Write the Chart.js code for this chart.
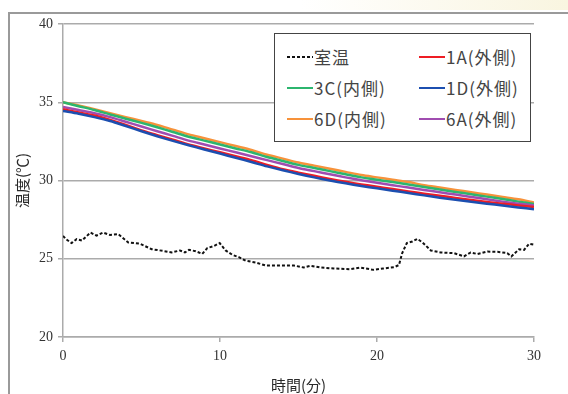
<!DOCTYPE html>
<html lang="ja">
<head>
<meta charset="utf-8">
<title>温度の推移</title>
<script src="https://cdn.jsdelivr.net/npm/chart.js@4/dist/chart.umd.min.js"></script>
<style>
  html, body { margin: 0; padding: 0; background: #fff; }
  #wrap { position: relative; width: 568px; height: 394px; overflow: hidden; }
  #topTint { position: absolute; left: 300px; top: 0; width: 268px; height: 10px;
    background: linear-gradient(to right, rgba(250,246,226,0), #f9f5e0); }
  #frame { position: absolute; left: 8px; top: 12px; width: 600px; height: 400px;
    border-left: 2px solid #9a9a9a; border-top: 2px solid #9a9a9a; box-sizing: border-box; }
  #chart { position: absolute; left: 0; top: 0; }
  #legend { position: absolute; left: 274px; top: 33px; width: 257px; height: 109px;
    border: 1.5px solid #444; box-sizing: border-box; background: #fff;
    font-family: "Noto Sans CJK JP", "Noto Sans", sans-serif; font-size: 17px; color: #444;
    letter-spacing: 1px; }
  .item { position: absolute; height: 31px; display: flex; align-items: center; white-space: nowrap; }
  .item svg { margin-right: 1px; }
</style>
</head>
<body>
<div id="wrap">
  <div id="topTint"></div>
  <div id="frame"></div>
  <canvas id="chart" width="568" height="394"></canvas>
  <div id="legend"></div>
</div>
<script>
/*
  Temperature decay chart: room temperature + 5 measuring points.
*/

const $ = (id) => document.getElementById(id);

// minutes 0..30 for the measuring points
const minutes = [0,1,2,3,4,5,6,7,8,9,10,11,12,13,14,15,16,17,18,19,20,21,22,23,24,25,26,27,28,29,30];

const temp1A = [34.55,34.35,34.15,33.87,33.55,33.2,32.9,32.6,32.3,32.05,31.8,31.55,31.3,31.0,30.72,30.5,30.3,30.1,29.92,29.75,29.6,29.45,29.3,29.16,29.02,28.89,28.76,28.63,28.51,28.41,28.3];
const temp3C = [35.0,34.75,34.5,34.22,33.95,33.68,33.4,33.1,32.8,32.55,32.3,32.05,31.8,31.5,31.25,31.0,30.8,30.6,30.4,30.2,30.05,29.9,29.75,29.58,29.42,29.27,29.12,28.97,28.82,28.65,28.5];
const temp1D = [34.45,34.27,34.05,33.8,33.48,33.15,32.83,32.53,32.25,31.98,31.72,31.45,31.18,30.9,30.65,30.42,30.2,30.0,29.82,29.65,29.5,29.35,29.2,29.05,28.9,28.77,28.64,28.52,28.4,28.28,28.17];
const temp6D = [35.0,34.8,34.55,34.3,34.05,33.8,33.55,33.25,32.95,32.7,32.45,32.2,31.95,31.65,31.4,31.15,30.95,30.75,30.55,30.35,30.2,30.05,29.9,29.7,29.55,29.4,29.25,29.1,28.95,28.8,28.6];
const temp6A = [34.7,34.5,34.3,34.05,33.75,33.45,33.15,32.85,32.55,32.3,32.05,31.8,31.55,31.3,31.05,30.8,30.6,30.4,30.2,30.02,29.85,29.7,29.55,29.4,29.25,29.1,28.95,28.8,28.65,28.52,28.4];

// room temperature, read at irregular times (min)
const roomTime = [0,0.2,0.55,0.87,1.2,1.75,2.13,2.56,2.99,3.52,4.16,4.9,5.65,6.39,6.92,7.45,7.77,8.03,8.45,8.87,9.19,9.62,9.98,10.36,10.79,11.2,11.64,12.27,12.9,13.97,14.7,15.33,15.76,16.4,17.24,18.3,18.94,19.78,20.4,21.08,21.4,21.6,21.9,22.25,22.57,22.9,23.43,24.06,24.9,25.54,25.97,26.4,27.03,27.67,28.3,28.56,29.05,29.37,29.69,30];
const roomTemp = [26.46,26.25,26.0,26.25,26.16,26.67,26.48,26.67,26.52,26.57,26.04,25.96,25.61,25.5,25.4,25.53,25.4,25.57,25.48,25.31,25.68,25.82,26.0,25.53,25.25,25.1,24.87,24.76,24.57,24.57,24.57,24.44,24.55,24.44,24.38,24.33,24.44,24.29,24.38,24.46,24.6,25.35,26.0,26.1,26.27,26.04,25.53,25.4,25.36,25.15,25.4,25.3,25.46,25.44,25.36,25.15,25.61,25.57,25.96,25.9];

const xTicks = [0, 10, 20, 30];
const yTicks = [20, 25, 30, 35, 40];

// legend order (two columns, row by row)
const legendNames  = ['室温', '1A(外側)', '3C(内側)', '1D(外側)', '6D(内側)', '6A(外側)'];
const legendColors = ['#111111', '#ee1d24', '#2cb56e', '#1c4fb0', '#f7923a', '#a04cb0'];

const seriesByName = {
  '1A(外側)': temp1A,
  '3C(内側)': temp3C,
  '1D(外側)': temp1D,
  '6D(内側)': temp6D,
  '6A(外側)': temp6A,
};

function pairs(xs, ys){
  return xs.map((x, i) => ({ x, y: ys[i] }));
}

function lineSet(name){
  const color = legendColors[legendNames.indexOf(name)];
  return {
    label: name,
    data: pairs(minutes, seriesByName[name]),
    borderColor: color,
    backgroundColor: color,
    borderWidth: 2.5,
    pointRadius: 0,
    tension: 0.3,
  };
}

function buildLegend(){
  const host = $('legend');
  legendNames.forEach((name, i) => {
    const col = i % 2, row = Math.floor(i / 2);
    const dash = name === '室温' ? 'stroke-dasharray="3,2"' : '';
    const div = document.createElement('div');
    div.className = 'item';
    div.style.left = (12 + col * 132) + 'px';
    div.style.top = (7 + row * 31) + 'px';
    div.innerHTML = `<svg width="26" height="4"><line x1="0" y1="2" x2="26" y2="2" stroke="${legendColors[i]}" stroke-width="2" ${dash}/></svg><span>${name}</span>`;
    host.appendChild(div);
  });
}

const gridGray = '#ababab';
const tickFont = { family: '"Liberation Serif", serif', size: 14 };
const titleFont = { family: '"Noto Sans CJK JP", sans-serif', size: 15 };

new Chart($('chart').getContext('2d'), {
  type: 'line',
  data: {
    datasets: [
      {
        label: '室温',
        data: pairs(roomTime, roomTemp),
        borderColor: '#111',
        borderWidth: 2,
        borderDash: [3, 2],
        pointRadius: 0,
        tension: 0,
      },
      lineSet('1D(外側)'),
      lineSet('1A(外側)'),
      lineSet('6A(外側)'),
      lineSet('3C(内側)'),
      lineSet('6D(内側)'),
    ]
  },
  options: {
    responsive: false,
    animation: false,
    layout: { padding: { left: 0, top: 24, right: 34, bottom: 0 } },
    plugins: {
      legend: { display: false },
      tooltip: { enabled: false },
    },
    scales: {
      x: {
        type: 'linear',
        min: 0, max: 30,
        afterBuildTicks: (s) => { s.ticks = xTicks.map(v => ({ value: v })); },
        afterFit: (s) => { s.height = 57; },
        ticks: { color: '#333', font: tickFont, padding: 6, maxRotation: 0 },
        grid: { drawOnChartArea: false, drawTicks: true, tickLength: 5, color: gridGray, lineWidth: 1.5 },
        border: { display: true, color: gridGray, width: 1.5 },
        title: {
          display: true,
          text: '時間(分)',
          color: '#2a2a2a',
          font: titleFont,
          padding: { top: 7, bottom: 0 },
        },
      },
      y: {
        min: 20, max: 40,
        afterBuildTicks: (s) => { s.ticks = yTicks.map(v => ({ value: v })); },
        afterFit: (s) => { s.width = 63; },
        ticks: { color: '#333', font: tickFont, padding: 5 },
        grid: { color: gridGray, lineWidth: 1.5, tickLength: 5 },
        border: { display: true, color: gridGray, width: 1.5 },
        title: {
          display: true,
          text: '温度(℃)',
          color: '#2a2a2a',
          font: titleFont,
          padding: { top: 13, bottom: 0 },
        },
      },
    }
  }
});

buildLegend();
</script>
</body>
</html>
